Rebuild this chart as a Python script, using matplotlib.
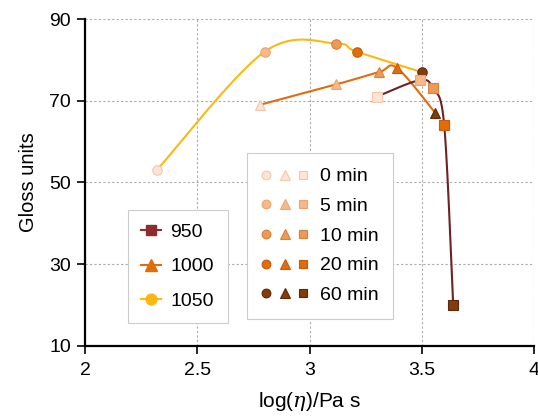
import numpy as np
import matplotlib
matplotlib.use("Agg")
import matplotlib.pyplot as plt
from matplotlib.lines import Line2D
from matplotlib.legend_handler import HandlerTuple

plt.rcParams['font.family'] = ['Liberation Sans', 'DejaVu Sans']
plt.rcParams['mathtext.fontset'] = 'custom'
plt.rcParams['mathtext.it'] = 'DejaVu Serif:italic'

# Data: log(eta) and gloss for each temperature at 0, 5, 10, 20, 60 min
times = ["0 min", "5 min", "10 min", "20 min", "60 min"]
x_950 = [3.30, 3.49, 3.55, 3.60, 3.64]
y_950 = [71.0, 75.0, 73.0, 64.0, 20.0]
x_1000 = [2.78, 3.12, 3.31, 3.39, 3.56]
y_1000 = [69.0, 74.0, 77.0, 78.0, 67.0]
x_1050 = [2.32, 2.80, 3.12, 3.21, 3.50]
y_1050 = [53.0, 82.0, 84.0, 82.0, 77.0]

temps = ["950", "1000", "1050"]
x_ticks = [2, 2.5, 3, 3.5, 4]
y_ticks = [10, 30, 50, 70, 90]

face_cols = ["#FCE4D6", "#F6B98A", "#EE9A55", "#E36C0A", "#843C0C"]
edge_cols = ["#F4C7A8", "#EBA570", "#D9803C", "#C65A08", "#5C2A08"]
line_cols = {"950": "#6E2222", "1000": "#E26B10", "1050": "#FDB813"}
legend_cols = {"950": "#8B2E2E", "1000": "#E36C0A", "1050": "#FDB515"}
markers = {"950": "s", "1000": "^", "1050": "o"}
msize = {"950": 6.5, "1000": 7.5, "1050": 6.8}


def smooth(xs, ys, n=40):
    P = np.column_stack([xs, ys]).astype(float)
    m = len(P)
    out = []
    for i in range(m - 1):
        p0 = P[i - 1] if i > 0 else P[i]
        p1 = P[i]
        p2 = P[i + 1]
        p3 = P[i + 2] if i + 2 < m else P[i + 1]
        t1 = (p2 - p0) / 2.0
        t2 = (p3 - p1) / 2.0
        c1 = p1 + t1 / 3.0
        c2 = p2 - t2 / 3.0
        t = np.linspace(0, 1, n)[:, None]
        seg = ((1 - t) ** 3) * p1 + 3 * ((1 - t) ** 2) * t * c1 + 3 * (1 - t) * t ** 2 * c2 + t ** 3 * p2
        out.append(seg if i == 0 else seg[1:])
    out = np.vstack(out)
    return out[:, 0], out[:, 1]


fig = plt.figure(figsize=(5.38, 4.18), dpi=100)
ax = fig.add_axes([0.158, 0.173, 0.8346, 0.7815])

series = {"950": (x_950, y_950), "1000": (x_1000, y_1000), "1050": (x_1050, y_1050)}
for t in ["1050", "1000", "950"]:
    xs, ys = series[t]
    sx, sy = smooth(xs, ys)
    ax.plot(sx, sy, color=line_cols[t], lw=1.5, zorder=2)
for t in ["1050", "1000", "950"]:
    xs, ys = series[t]
    for k in range(len(xs)):
        ax.plot(xs[k], ys[k], marker=markers[t], ms=msize[t], mfc=face_cols[k],
                mec=edge_cols[k], mew=0.8, ls='none', zorder=3)

ax.set_xlim(2, 4)
ax.set_ylim(10, 90)
ax.set_xticks(x_ticks)
ax.set_xticklabels([str(v) for v in x_ticks])
ax.set_yticks(y_ticks)
ax.grid(True, color="#AAAAAA", ls=(0, (2, 2)), lw=0.8)
ax.set_axisbelow(True)
for s in ["top", "right"]:
    ax.spines[s].set_visible(False)
for s in ["left", "bottom"]:
    ax.spines[s].set_linewidth(1.6)
ax.tick_params(direction='out', length=6, width=1.2, labelsize=14)
ax.tick_params(axis='y', pad=4)
ax.tick_params(axis='x', pad=6)
ax.set_xlabel("log($\\it{\\eta}$)/Pa s", fontsize=15, labelpad=8)
ax.set_ylabel("Gloss units", fontsize=14.5, labelpad=8)

# Legend 1: temperatures
h1 = [Line2D([], [], color=line_cols[t] if t != "950" else legend_cols[t], marker=markers[t],
             ms=msize[t] + 1, mfc=legend_cols[t], mec=legend_cols[t], lw=1.5) for t in temps]
leg1 = fig.legend(h1, temps, loc='upper left', bbox_to_anchor=(0.2374, 0.4976),
                  bbox_transform=fig.transFigure, borderaxespad=0, fontsize=14,
                  frameon=True, fancybox=False, edgecolor="#CCCCCC", framealpha=1,
                  handlelength=1.0, labelspacing=0.85, borderpad=0.7, handletextpad=0.5)
leg1.get_frame().set_linewidth(0.8)

# Legend 2: times
h2 = []
for k in range(len(times)):
    h2.append(tuple(Line2D([], [], marker=markers[t], ls='none', ms=msize[t] - 0.5,
                           mfc=face_cols[k], mec=edge_cols[k], mew=0.8)
                    for t in ["1050", "1000", "950"]))
leg2 = fig.legend(h2, times, loc='upper left', bbox_to_anchor=(0.4585, 0.6333),
                  bbox_transform=fig.transFigure, borderaxespad=0, fontsize=14,
                  frameon=True, fancybox=False, edgecolor="#CCCCCC", framealpha=1,
                  handler_map={tuple: HandlerTuple(ndivide=None, pad=0.4)},
                  handlelength=2.4, labelspacing=0.62, borderpad=0.75, handletextpad=0.6)
leg2.get_frame().set_linewidth(0.8)

fig.savefig("out.png", dpi=100)
